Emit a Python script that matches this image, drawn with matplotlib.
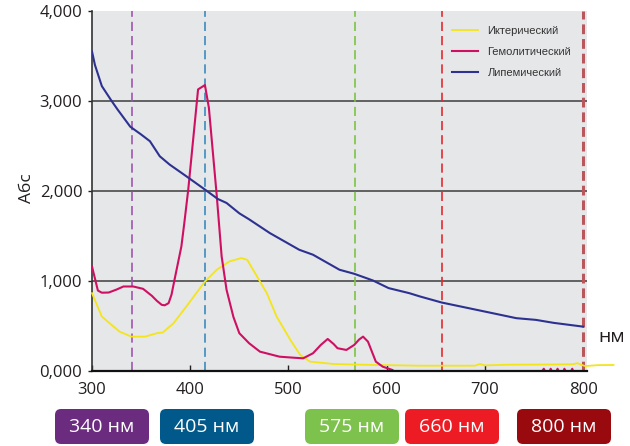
import matplotlib.pyplot as plt
from matplotlib.patches import FancyBboxPatch
from matplotlib.transforms import IdentityTransform

plt.rcParams['font.family'] = ['Open Sans', 'DejaVu Sans']

# ---- data ----
series_names = ["Иктерический", "Гемолитический", "Липемический"]

icteric_nm = [300, 310, 316, 328, 340, 354, 366, 372, 383, 396, 415, 427, 440,
              452, 458, 466, 478, 488, 502, 512, 522, 546, 587, 634, 690, 695,
              700, 724, 760, 790, 794, 798, 802, 815, 831]
icteric_abs = [865, 605, 549, 438, 382, 382, 420, 427, 531, 716, 994, 1125, 1218,
               1255, 1236, 1088, 865, 605, 345, 178, 104, 78, 67, 59, 59, 78,
               62, 70, 72, 75, 88, 70, 55, 65, 67]

hemo_nm = [300, 306, 310, 317, 325, 332, 342, 352, 361, 366, 371, 374, 378, 381,
           384, 391, 394, 398, 408, 415, 419, 427, 432, 437, 444, 450, 460, 471,
           491, 505, 515, 525, 533, 540, 546, 550, 559, 567, 572, 576, 581, 589,
           596, 606, 613, 755, 760, 764, 767, 771, 774, 778, 781, 785, 789, 792]
hemo_abs = [1161, 894, 870, 872, 905, 939, 939, 913, 835, 780, 735, 730, 754, 850,
            1013, 1384, 1645, 2016, 3129, 3177, 2925, 1950, 1273, 902, 600, 420,
            308, 215, 159, 148, 141, 197, 290, 356, 300, 253, 234, 290, 350, 382,
            326, 104, 48, 11, -60, -60, 25, -60, 25, -60, 25, -60, 25, -60, 25, -60]

lipemic_nm = [300, 303, 310, 320, 326, 339, 350, 359, 369, 379, 396, 415, 428,
              437, 450, 460, 481, 511, 525, 552, 567, 586, 602, 623, 634, 656,
              705, 732, 752, 770, 800]
lipemic_abs = [3550, 3400, 3166, 3000, 2906, 2714, 2628, 2553, 2386, 2294, 2164,
               2016, 1912, 1867, 1752, 1685, 1533, 1347, 1292, 1125, 1080, 1006,
               921, 865, 828, 761, 649, 587, 568, 535, 493]

marker_nm = [341, 415, 568, 656, 800]
box_labels = ["340 нм", "405 нм", "575 нм", "660 нм", "800 нм"]

x_ticks = [300, 400, 500, 600, 700, 800]
y_ticks = [0, 1000, 2000, 3000, 4000]
y_tick_labels = ["0,000", "1,000", "2,000", "3,000", "4,000"]

# ---- styles ----
curve_colors = ['#f4e51a', '#cf1062', '#2d3190']
marker_colors = ['#9d55b0', '#3b8bbf', '#7cc443', '#e52a30', '#b9575c']
marker_lw = [1.2, 1.2, 1.2, 1.2, 2.2]
box_colors = ['#6b2c80', '#00598a', '#7dc24c', '#ed1c24', '#990a0f']
box_x = [55, 160, 305, 405, 517]   # left edge, px
BOX_W, BOX_H, BOX_TOP = 94, 35, 409

W, H = 630, 446
fig = plt.figure(figsize=(W / 100, H / 100), dpi=100)
ax = fig.add_axes([92 / W, 1 - 371 / H, 495 / W, 360 / H])
ax.set_facecolor('#e6e7e9')
ax.set_xlim(300, 804)
ax.set_ylim(0, 4000)

for y in y_ticks[1:-1]:
    ax.axhline(y, color='#4a4a4a', lw=1.2, zorder=1)

for xv, c, lw in zip(marker_nm, marker_colors, marker_lw):
    dash = (5.5, 3) if lw < 2 else (3.2, 1.6)
    ax.axvline(xv, color=c, lw=lw, ls=(0, dash), zorder=2)

ax.plot(icteric_nm, icteric_abs, color=curve_colors[0], lw=1.3,
        label=series_names[0], zorder=3, clip_on=False)
ax.plot(hemo_nm, hemo_abs, color=curve_colors[1], lw=1.5,
        label=series_names[1], zorder=3)
ax.plot(lipemic_nm, lipemic_abs, color=curve_colors[2], lw=1.5,
        label=series_names[2], zorder=4)

for side in ('top', 'right'):
    ax.spines[side].set_visible(False)
ax.spines['left'].set_color('#333333')
ax.spines['left'].set_linewidth(1.2)
ax.spines['bottom'].set_color('#111111')
ax.spines['bottom'].set_linewidth(1.6)
ax.spines['bottom'].set_zorder(5)

ax.set_xticks(x_ticks)
ax.set_yticks(y_ticks)
ax.set_yticklabels(y_tick_labels)
ax.tick_params(axis='x', direction='in', length=4, width=1, pad=8,
               labelsize=12, colors='#231f20')
ax.tick_params(axis='y', direction='out', length=3, width=1, pad=4,
               labelsize=12, colors='#231f20')

leg = ax.legend(loc='upper left', bbox_to_anchor=(452 / W, 1 - 26 / H),
                bbox_transform=fig.transFigure, frameon=False, borderpad=0,
                borderaxespad=0, handlelength=2.3, handletextpad=0.9,
                labelspacing=1.0, prop={'family': 'Liberation Sans', 'size': 8})
for t in leg.get_texts():
    t.set_color('#333333')

fig.text(27 / W, 1 - 188 / H, "Абс", rotation=90, ha='center', va='center',
         fontsize=12.5, color='#231f20')
fig.text(612 / W, 1 - 337 / H, "нм", ha='center', va='center',
         fontsize=14, color='#231f20')

for x0, label, c in zip(box_x, box_labels, box_colors):
    patch = FancyBboxPatch((x0, H - BOX_TOP - BOX_H), BOX_W, BOX_H,
                           boxstyle="round,pad=0,rounding_size=6",
                           transform=IdentityTransform(), facecolor=c,
                           edgecolor='none')
    fig.add_artist(patch)
    fig.text((x0 + BOX_W / 2) / W, 1 - (BOX_TOP + BOX_H / 2) / H, label,
             ha='center', va='center', fontsize=14, color='white')

fig.savefig("out.png", dpi=100)
